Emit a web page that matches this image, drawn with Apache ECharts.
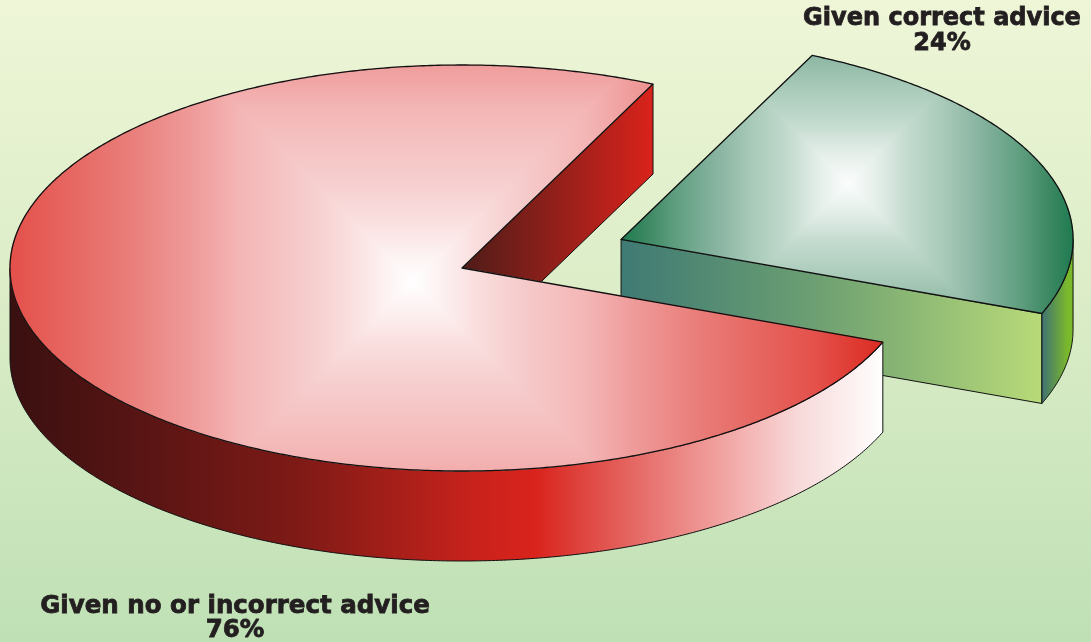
<!DOCTYPE html>
<html>
<head>
<meta charset="utf-8">
<style>html,body{margin:0;padding:0;background:#fff}#c{width:1091px;height:642px}</style>
<script src="https://cdn.jsdelivr.net/npm/echarts@6/dist/echarts.min.js"></script>
</head>
<body>
<div id="c"></div>
<script>
var categories = ['Given no or incorrect advice', 'Given correct advice'];
var values = [76, 24];

var layout = {cx: 462, cy: 268, rx: 452, ry: 203, depth: 90, startAngle: 65, explode: 0.379};
var styles = [
  {
    focus: [413, 282], reach: 471,
    top: [[0,'#ffffff'],[0.06,'#fdf1f1'],[0.13,'#fadfdf'],[0.22,'#f6cdcd'],[0.37,'#f4b5b5'],[0.46,'#ef9d9c'],[0.61,'#e97c78'],[0.856,'#e4504a'],[1,'#da2a20']],
    wallX: [10, 884],
    wall: [[0,'#3a1010'],[0.16,'#5a1514'],[0.33,'#7e1a16'],[0.446,'#a81f19'],[0.53,'#c8221c'],[0.6,'#d9231c'],[0.72,'#e66c68'],[0.81,'#f0a09e'],[0.9,'#f8d8d8'],[1,'#ffffff']],
    cutX: [462, 653],
    cut: [[0,'#4e1c18'],[1,'#d9231b']],
    label: [235, 607, 631], fontSize: 24.5
  },
  {
    focus: [848, 183], reach: 226,
    top: [[0,'#fbfdfc'],[0.13,'#e4eee9'],[0.26,'#c4dbcf'],[0.44,'#a5c8b6'],[0.57,'#8ab5a2'],[0.75,'#62a082'],[0.88,'#3f8a65'],[1,'#1f7a50']],
    wallX: [1042, 1072],
    wall: [[0,'#3f7272'],[0.85,'#7bb92c'],[1,'#7bb92c']],
    cutX: [621, 1042],
    cut: [[0,'#3f7a74'],[0.45,'#6b9e72'],[1,'#b8da78']],
    label: [942, 19, 44], fontSize: 24
  }
];

function pt(o, t, z) {
  var a = t * Math.PI / 180;
  return [o[0] + layout.rx * Math.cos(a), o[1] - layout.ry * Math.sin(a) + (z || 0)];
}
function arc(o, a, b, z) {
  var n = Math.max(2, Math.ceil((b - a) * 2)), out = [];
  for (var i = 0; i <= n; i++) out.push(pt(o, a + (b - a) * i / n, z));
  return out;
}
function clip(poly, f) {
  var out = [];
  for (var i = 0; i < poly.length; i++) {
    var p = poly[i], q = poly[(i + 1) % poly.length], fp = f(p), fq = f(q);
    if (fp >= 0) out.push(p);
    if ((fp >= 0) !== (fq >= 0)) {
      var k = fp / (fp - fq);
      out.push([p[0] + (q[0] - p[0]) * k, p[1] + (q[1] - p[1]) * k]);
    }
  }
  return out;
}
function stopsOf(list) {
  return list.map(function (s) { return {offset: s[0], color: s[1]}; });
}
function hGrad(x, list) {
  return new echarts.graphic.LinearGradient(x[0], 0, x[1], 0, stopsOf(list), true);
}

var total = values.reduce(function (a, b) { return a + b; }, 0);
var starts = [];
values.reduce(function (acc, v, i) { starts[i] = acc; return acc + v; }, 0);

function renderSlice(params, api) {
  var i = api.value(0), v = api.value(1), st = styles[i];
  var a = layout.startAngle + 360 * starts[i] / total;
  var b = a + 360 * v / total;
  var mid = (a + b) / 2 * Math.PI / 180;
  var off = i === 1 ? layout.explode : 0;
  var o = [layout.cx + off * layout.rx * Math.cos(mid), layout.cy - off * layout.ry * Math.sin(mid)];
  var d = layout.depth, kids = [];
  var line = {stroke: '#111', lineWidth: 1, lineJoin: 'round'};

  // cut face at the slice's starting edge
  var p0 = pt(o, a);
  kids.push({type: 'polygon', shape: {points: [o, p0, [p0[0], p0[1] + d], [o[0], o[1] + d]]},
    style: Object.assign({fill: hGrad(st.cutX, st.cut)}, line)});

  // visible outer wall
  var wa = Math.max(a, 180), wb = Math.min(b, 360);
  if (wb > wa) {
    kids.push({type: 'polygon', shape: {points: arc(o, wa, wb, 0).concat(arc(o, wa, wb, d).reverse())},
      style: Object.assign({fill: hGrad(st.wallX, st.wall)}, line)});
  }

  // top face: four-sided pyramid shading around the highlight
  var wedge = [o].concat(arc(o, a, b, 0));
  var c = st.focus, R = st.reach;
  [[-1, 0], [1, 0], [0, -1], [0, 1]].forEach(function (dir) {
    var part = clip(clip(wedge, function (p) {
      var dx = p[0] - c[0], dy = p[1] - c[1];
      return dir[0] * dx + dir[1] * dy - dy * dir[0] - dx * dir[1];
    }), function (p) {
      var dx = p[0] - c[0], dy = p[1] - c[1];
      return dir[0] * dx + dir[1] * dy + dy * dir[0] + dx * dir[1];
    });
    if (part.length < 3) return;
    var g = new echarts.graphic.LinearGradient(c[0], c[1], c[0] + dir[0] * R, c[1] + dir[1] * R, stopsOf(st.top), true);
    kids.push({type: 'polygon', shape: {points: part}, style: {fill: g, stroke: g, lineWidth: 0.8}});
  });
  kids.push({type: 'polygon', shape: {points: wedge},
    style: {fill: 'none', stroke: '#111', lineWidth: 1.3, lineJoin: 'round'}});

  // label
  var font = 'bold ' + st.fontSize + 'px "DejaVu Sans", sans-serif';
  var ink = {font: font, fill: '#231f20', stroke: '#231f20', lineWidth: 0.8, align: 'center', verticalAlign: 'middle'};
  kids.push({type: 'text', style: Object.assign({text: categories[i], x: st.label[0], y: st.label[1]}, ink)});
  kids.push({type: 'text', style: Object.assign({text: v + '%', x: st.label[0], y: st.label[2]}, ink)});

  return {type: 'group', children: kids};
}

var chart = echarts.init(document.getElementById('c'), null, {renderer: 'canvas'});
chart.setOption({
  animation: false,
  backgroundColor: new echarts.graphic.LinearGradient(0, 0, 0, 1, [
    {offset: 0, color: '#eef6d7'},
    {offset: 0.45, color: '#dcedc8'},
    {offset: 1, color: '#bfe0b5'}
  ]),
  series: [{
    type: 'custom',
    coordinateSystem: 'none',
    silent: true,
    clip: false,
    renderItem: renderSlice,
    data: [1, 0].map(function (i) { return {name: categories[i], value: [i, values[i]]}; })
  }]
});
</script>
</body>
</html>
